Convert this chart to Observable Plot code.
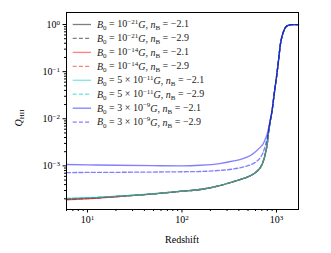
<!DOCTYPE html>
<html>
<head>
<meta charset="utf-8">
<script src="https://cdn.jsdelivr.net/npm/d3@7"></script>
<script src="https://cdn.jsdelivr.net/npm/@observablehq/plot@0.6"></script>
<style>
  html, body { margin: 0; padding: 0; background: #fff; }
  #chart { width: 331px; height: 253px; }
</style>
</head>
<body>
<div id="chart"></div>
<script>
// Redshift grid shared by all curves
const redshift = [6, 10, 20, 50, 100, 156, 250, 352, 450, 530, 600, 676, 720, 762, 800, 828, 860, 898, 950, 1000, 1050, 1102, 1150, 1200, 1250, 1330, 1420, 1466, 1550, 1710];

// high-z (common) part of the curves, from z=898 on
const tail = [0.0148, 0.036, 0.076, 0.17, 0.39, 0.58, 0.75, 0.88, 0.96, 0.99, 1.0, 1.0, 1.0];

const q_m21_21 = [1.98e-4, 2.06e-4, 2.24e-4, 2.55e-4, 2.9e-4, 3.15e-4, 3.8e-4, 4.65e-4, 5.4e-4, 6.2e-4, 7.2e-4, 9.3e-4, 1.2e-3, 1.8e-3, 3.0e-3, 5.6e-3, 9.0e-3, ...tail];
const q_m21_29 = [1.97e-4, 2.05e-4, 2.24e-4, 2.55e-4, 2.9e-4, 3.15e-4, 3.8e-4, 4.65e-4, 5.4e-4, 6.2e-4, 7.2e-4, 9.3e-4, 1.2e-3, 1.8e-3, 3.0e-3, 5.6e-3, 9.0e-3, ...tail];
const q_m14_21 = [1.90e-4, 2.0e-4, 2.2e-4, 2.54e-4, 2.9e-4, 3.15e-4, 3.8e-4, 4.65e-4, 5.4e-4, 6.2e-4, 7.2e-4, 9.3e-4, 1.2e-3, 1.8e-3, 3.0e-3, 5.6e-3, 9.0e-3, ...tail];
const q_m14_29 = [1.93e-4, 2.02e-4, 2.21e-4, 2.54e-4, 2.9e-4, 3.15e-4, 3.8e-4, 4.65e-4, 5.4e-4, 6.2e-4, 7.2e-4, 9.3e-4, 1.2e-3, 1.8e-3, 3.0e-3, 5.6e-3, 9.0e-3, ...tail];
const q_5m11_21 = [2.02e-4, 2.09e-4, 2.25e-4, 2.56e-4, 2.9e-4, 3.15e-4, 3.8e-4, 4.65e-4, 5.4e-4, 6.2e-4, 7.2e-4, 9.3e-4, 1.2e-3, 1.8e-3, 3.0e-3, 5.6e-3, 9.0e-3, ...tail];
const q_5m11_29 = [2.07e-4, 2.12e-4, 2.27e-4, 2.57e-4, 2.9e-4, 3.15e-4, 3.8e-4, 4.65e-4, 5.4e-4, 6.2e-4, 7.2e-4, 9.3e-4, 1.2e-3, 1.8e-3, 3.0e-3, 5.6e-3, 9.0e-3, ...tail];
const q_3m9_21 = [1.07e-3, 1.05e-3, 1.03e-3, 1.01e-3, 1.0e-3, 1.03e-3, 1.12e-3, 1.27e-3, 1.45e-3, 1.66e-3, 2.0e-3, 2.5e-3, 2.9e-3, 3.7e-3, 4.9e-3, 6.6e-3, 9.5e-3, ...tail];
const q_3m9_29 = [7.2e-4, 7.25e-4, 7.3e-4, 7.4e-4, 7.5e-4, 7.6e-4, 8.0e-4, 8.6e-4, 9.5e-4, 1.05e-3, 1.2e-3, 1.5e-3, 1.9e-3, 2.7e-3, 4.0e-3, 5.6e-3, 9.0e-3, ...tail];

const seriesNames = ["m21_21", "m21_29", "m14_21", "m14_29", "5m11_21", "5m11_29", "3m9_21", "3m9_29"];
const seriesValues = [q_m21_21, q_m21_29, q_m14_21, q_m14_29, q_5m11_21, q_5m11_29, q_3m9_21, q_3m9_29];
const seriesColors = ["#000000", "#000000", "#ff0000", "#ff0000", "#00d2c4", "#00d2c4", "#0000ff", "#0000ff"];
const seriesOpacity = 0.5;
const seriesDashed = [false, true, false, true, false, true, false, true];
// legend label parts: [B0 prefix, exponent, nB]
const legendPrefix = ["", "", "", "", "5 × ", "5 × ", "3 × ", "3 × "];
const legendExp = ["−21", "−21", "−14", "−14", "−11", "−11", "−9", "−9"];
const legendN = ["−2.1", "−2.9", "−2.1", "−2.9", "−2.1", "−2.9", "−2.1", "−2.9"];

const majorX = [10, 100, 1000];
const minorX = [6, 7, 8, 9, 20, 30, 40, 50, 60, 70, 80, 90, 200, 300, 400, 500, 600, 700, 800, 900];
const majorY = [1e-3, 1e-2, 1e-1, 1];
const minorY = [2e-4, 3e-4, 4e-4, 5e-4, 6e-4, 7e-4, 8e-4, 9e-4, 2e-3, 3e-3, 4e-3, 5e-3, 6e-3, 7e-3, 8e-3, 9e-3,
                2e-2, 3e-2, 4e-2, 5e-2, 6e-2, 7e-2, 8e-2, 9e-2, 0.2, 0.3, 0.4, 0.5, 0.6, 0.7, 0.8, 0.9];

const rows = [];
seriesNames.forEach((name, i) => {
  seriesValues[i].forEach((q, j) => rows.push({series: name, i, z: redshift[j], q}));
});

const lineMarks = seriesNames.map((name, i) =>
  Plot.line(rows.filter(r => r.series === name), {
    x: "z", y: "q", stroke: seriesColors[i], strokeOpacity: seriesOpacity, strokeWidth: 1.3,
    strokeDasharray: seriesDashed[i] ? "4,2.2" : null, curve: "monotone-x"
  })
);

const font = "'Liberation Serif', 'DejaVu Serif', serif";
const expFmt = d => String(Math.round(Math.log10(d))).replace("-", "−");

const chart = Plot.plot({
  width: 331, height: 253,
  marginLeft: 66, marginRight: 33, marginTop: 12, marginBottom: 44,
  style: {fontFamily: font, fontSize: "10px", background: "white", color: "black"},
  x: {type: "log", domain: [6, 1710]},
  y: {type: "log", domain: [1.186e-4, 1.8]},
  marks: [
    ...lineMarks,
    Plot.axisX({ticks: majorX, tickSize: 3.5, tickPadding: 3, tickFormat: expFmt, label: null, fontSize: 10}),
    Plot.axisX({ticks: minorX, tickSize: 2, tickFormat: () => "", label: null}),
    Plot.axisY({ticks: majorY, tickSize: 3.5, tickPadding: 3, tickFormat: expFmt, label: null, fontSize: 10}),
    Plot.axisY({ticks: minorY, tickSize: 2, tickFormat: () => "", label: null}),
    Plot.frame({stroke: "black", strokeWidth: 1})
  ]
});
document.getElementById("chart").appendChild(chart);

const svg = d3.select(chart);

// turn exponent tick labels into 10^n with real superscripts
svg.selectAll("g[aria-label='x-axis tick label'] text, g[aria-label='y-axis tick label'] text").each(function() {
  const t = d3.select(this);
  const e = t.text();
  if (!e) return;
  t.text("");
  t.append("tspan").text("10");
  t.append("tspan").attr("dy", "-0.45em").attr("font-size", "7px").text(e);
});

// axis labels
svg.append("text")
  .attr("x", 66 + (298 - 66) / 2).attr("y", 243)
  .attr("text-anchor", "middle").attr("font-size", "10px").attr("font-family", font)
  .text("Redshift");
const yl = svg.append("text")
  .attr("transform", "translate(22,118) rotate(-90)")
  .attr("text-anchor", "middle").attr("font-size", "10px").attr("font-family", font);
yl.append("tspan").attr("font-style", "italic").text("Q");
yl.append("tspan").attr("dy", "0.3em").attr("font-size", "7px").text("HII");

// legend
const lg = svg.append("g").attr("font-family", font).attr("font-size", "10px").attr("text-anchor", "start").attr("fill", "#222");
seriesNames.forEach((name, i) => {
  const y = 24.5 + i * 13.95;
  lg.append("line").attr("x1", 72.7).attr("x2", 91).attr("y1", y).attr("y2", y)
    .attr("stroke", seriesColors[i]).attr("stroke-opacity", seriesOpacity).attr("stroke-width", 1.3)
    .attr("stroke-dasharray", seriesDashed[i] ? "4,2.2" : null);
  const t = lg.append("text").attr("x", 97).attr("y", y + 3.3).attr("text-anchor", "start");
  t.append("tspan").attr("font-style", "italic").text("B");
  t.append("tspan").attr("dy", "0.3em").attr("font-size", "7px").text("0");
  t.append("tspan").attr("dy", "-0.3em").text(" = " + legendPrefix[i] + "10");
  t.append("tspan").attr("dy", "-0.45em").attr("font-size", "7px").text(legendExp[i]);
  t.append("tspan").attr("dy", "0.45em").attr("font-style", "italic").text("G");
  t.append("tspan").text(", ");
  t.append("tspan").attr("font-style", "italic").text("n");
  t.append("tspan").attr("dy", "0.3em").attr("font-size", "7px").text("B");
  t.append("tspan").attr("dy", "-0.3em").text(" = " + legendN[i]);
});
</script>
</body>
</html>
